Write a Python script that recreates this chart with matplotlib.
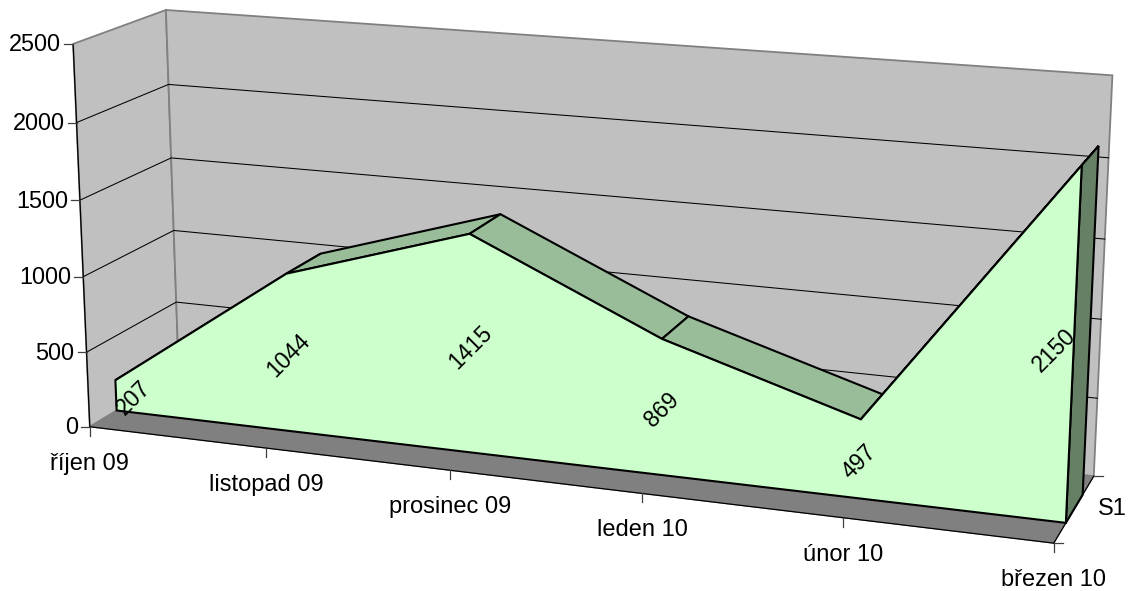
import numpy as np
import matplotlib
matplotlib.use("Agg")
import matplotlib.pyplot as plt
from matplotlib.patches import Polygon

plt.rcParams['font.family'] = ['Liberation Sans', 'DejaVu Sans']

# --- data ---
categories = ["říjen 09", "listopad 09", "prosinec 09", "leden 10", "únor 10", "březen 10"]
values = [207, 1044, 1415, 869, 497, 2150]
value_ticks = [0, 500, 1000, 1500, 2000, 2500]
series_name = "S1"

# --- view: (category position, value, depth) <-> pixel, used to solve the camera ---
view_world = [(0, 0, 0), (0, 2500, 0), (0, 2500, 1), (0, 0, 1), (5, 0, 0), (5, 2500, 1), (5, 0, 1),
              (1, 0, 0), (2, 0, 0), (3, 0, 0), (4, 0, 0),
              (0, 2000, 0), (0, 1500, 0), (0, 1000, 0), (0, 500, 0),
              (0, 2000, 1), (0, 1500, 1), (0, 1000, 1), (0, 500, 1), (5, 2000, 1)]
view_pixel = [(89, 427), (74, 44), (165, 10), (179, 372), (1053, 543), (1113, 75), (1094, 476),
              (267, 448), (449, 470), (642, 494), (844, 518),
              (77, 122), (80, 200), (83, 276), (86, 353),
              (168, 85), (171, 158), (174, 231), (177, 302), (1108, 158)]

AREA_DEPTH = (0.29, 0.71)


def solve_camera(world, pixel):
    rows = []
    for (x, v, z), (u, w) in zip(world, pixel):
        X = [x / 5, v / 2500, z, 1]
        u, w = u / 1000, w / 1000
        rows.append(X + [0, 0, 0, 0] + [-u * c for c in X])
        rows.append([0, 0, 0, 0] + X + [-w * c for c in X])
    _, _, vt = np.linalg.svd(np.array(rows))
    return vt[-1].reshape(3, 4)


CAM = solve_camera(view_world, view_pixel)


def project(x, v, z):
    h = CAM @ np.array([x / 5, v / 2500, z, 1.0])
    return 1000 * h[0] / h[2], 1000 * h[1] / h[2]


fig = plt.figure(figsize=(11.28, 5.91), dpi=100)
ax = fig.add_axes([0, 0, 1, 1])
ax.set_xlim(0, 1128)
ax.set_ylim(591, 0)
ax.axis("off")

n = len(categories) - 1
vmax = value_ticks[-1]

WALL = "#c0c0c0"
FLOOR = "#808080"
EDGE = "#808080"
FACE = "#ccffcc"
TOP = "#99bd99"
SIDE = "#668066"


def poly(pts, fc, ec="black", lw=1.4, z=1):
    ax.add_patch(Polygon(pts, closed=True, facecolor=fc, edgecolor=ec, linewidth=lw, zorder=z,
                         joinstyle="miter"))


# walls and floor
poly([project(0, 0, 0), project(0, vmax, 0), project(0, vmax, 1), project(0, 0, 1)], WALL, EDGE, 1.3, 1)
poly([project(0, 0, 1), project(0, vmax, 1), project(n, vmax, 1), project(n, 0, 1)], WALL, EDGE, 1.3, 1)
poly([project(0, 0, 0), project(n, 0, 0), project(n, 0, 1), project(0, 0, 1)], FLOOR, FLOOR, 0.8, 1.5)

# gridlines
for t in value_ticks[1:-1]:
    pts = [project(0, t, 0), project(0, t, 1), project(n, t, 1)]
    ax.plot(*zip(*pts), color="black", lw=0.75, zorder=2)

# axis lines
for a, b in [((0, vmax - 10, 0), (0, 0, 0)), ((0, 0, 0), (n, 0, 0)), ((n, 0, 0), (n, 0, 1))]:
    ax.plot(*zip(project(*a), project(*b)), color="black", lw=0.9, zorder=3)

# value axis ticks and labels
for t in value_ticks:
    px, py = project(0, t, 0)
    ax.plot([px - 9, px], [py, py], color="#404040", lw=0.9, zorder=3)
    ax.text(px - 12, py + 1, str(t), ha="right", va="center", fontsize=16.9, color="black")

# category ticks and labels
for i, c in enumerate(categories):
    px, py = project(i, 0, 0)
    ax.plot([px, px], [py, py + 9], color="#404040", lw=0.9, zorder=3)
    ax.text(px, py + 37, c, ha="center", va="center", fontsize=17, color="black")

# depth ticks and series name
for z in (0, 1):
    px, py = project(n, 0, z)
    ax.plot([px, px + 9], [py, py], color="#404040", lw=0.9, zorder=3)
px, py = project(n, 0, 0.5)
ax.text(px + 24, py, series_name, ha="left", va="center", fontsize=17, color="black")

# area: top faces, end face, front face
z0, z1 = AREA_DEPTH
for i in range(n):
    poly([project(i, values[i], z0), project(i + 1, values[i + 1], z0),
          project(i + 1, values[i + 1], z1), project(i, values[i], z1)], TOP, "black", 1.5, 4)
poly([project(n, 0, z0), project(n, values[n], z0), project(n, values[n], z1), project(n, 0, z1)],
     SIDE, "black", 1.5, 4)
front = [project(0, 0, z0)] + [project(i, values[i], z0) for i in range(n + 1)] + [project(n, 0, z0)]
poly(front, FACE, "black", 1.5, 5)

# data labels
for i, v in enumerate(values):
    px, py = project(i, v / 2, z0)
    shift = 18 if i == 0 else (-19 if i == n else 0)
    ax.text(px + shift, py + 3, str(v), rotation=45, rotation_mode="anchor", ha="center", va="center",
            fontsize=16.5, color="black", zorder=6)

fig.savefig("out.png", dpi=100)
